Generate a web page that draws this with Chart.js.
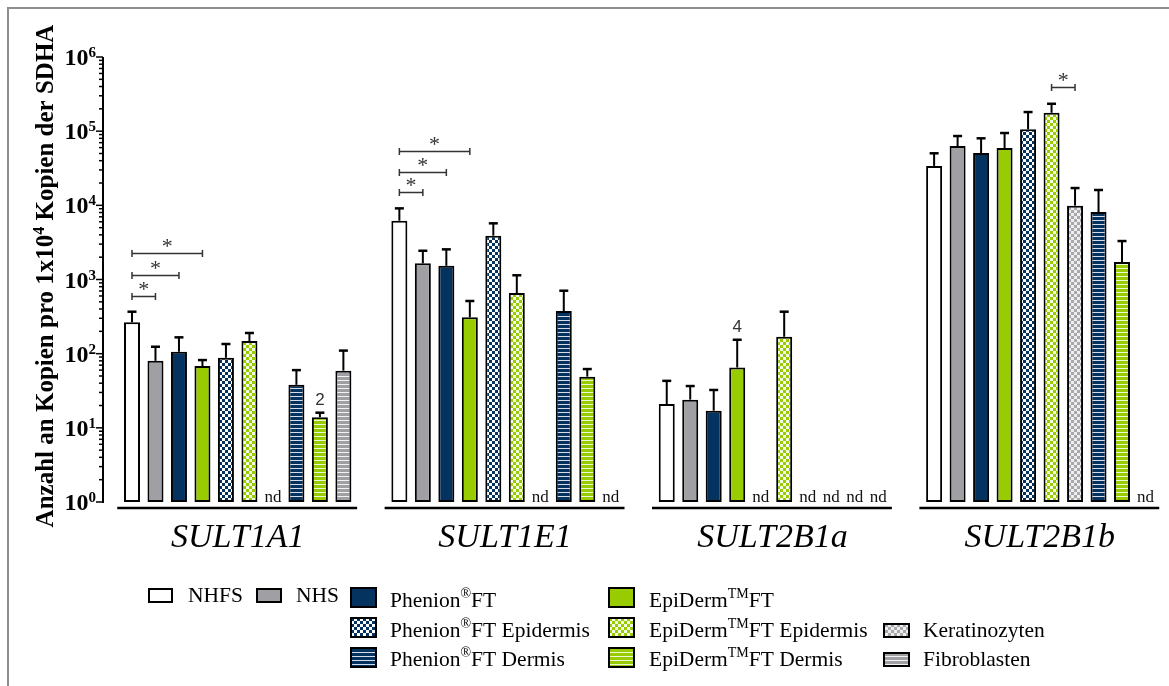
<!DOCTYPE html>
<html>
<head>
<meta charset="utf-8">
<script src="https://cdn.jsdelivr.net/npm/chart.js@4.4.1/dist/chart.umd.min.js"></script>
<style>
  html, body { margin: 0; padding: 0; background: #fff; overflow: hidden; width: 1169px; height: 686px; }
  #wrap { position: relative; width: 1180px; height: 686px; }
  canvas { display: block; }
</style>
</head>
<body>
<div id="wrap"><canvas id="c" width="1180" height="686"></canvas></div>
<script>
// ---- data: copies per 1x10^4 SDHA copies (mean, SD); null = not detected ----
const genes = ['SULT1A1', 'SULT1E1', 'SULT2B1a', 'SULT2B1b'];

const nhfs       = [265, 6200, 21, 34000];
const nhfsSd     = [103, 2900, 22, 16300];
const nhs        = [80, 1650, 24, 63000];
const nhsSd      = [44, 790, 12.6, 23000];
const phenFT     = [106, 1530, 17, 50700];
const phenFTSd   = [60, 1020, 15.4, 29400];
const epiFT      = [68, 309, 65, 59300];
const epiFTSd    = [14, 204, 89, 35100];
const phenEpi    = [88, 3900, null, 106000];
const phenEpiSd  = [47, 1820, null, 75000];
const epiEpi     = [148, 658, 169, 177000];
const epiEpiSd   = [42, 482, 199, 57000];
const kera       = [null, null, null, 9900];
const keraSd     = [null, null, null, 7200];
const phenDerm   = [38, 376, null, 8130];
const phenDermSd = [22, 330, null, 7970];
const epiDerm    = [13.9, 49, null, 1720];
const epiDermSd  = [2.1, 13, null, 1580];
const fibro      = [59, null, null, null];
const fibroSd    = [51, null, null, null];

const seriesNames = [
  'NHFS', 'NHS', 'Phenion^{®}FT', 'EpiDerm^{TM}FT',
  'Phenion^{®}FT Epidermis', 'EpiDerm^{TM}FT Epidermis', 'Keratinozyten',
  'Phenion^{®}FT Dermis', 'EpiDerm^{TM}FT Dermis', 'Fibroblasten'
];
const seriesMeans = [nhfs, nhs, phenFT, epiFT, phenEpi, epiEpi, kera, phenDerm, epiDerm, fibro];
const seriesSds   = [nhfsSd, nhsSd, phenFTSd, epiFTSd, phenEpiSd, epiEpiSd, keraSd, phenDermSd, epiDermSd, fibroSd];

// significance brackets: gene index, series from/to, bracket level (data units)
const sigGene  = [0, 0, 0, 1, 1, 1, 3];
const sigFrom  = [0, 0, 0, 0, 0, 0, 5];
const sigTo    = [1, 2, 3, 1, 2, 3, 6];
const sigLevel = [600, 1150, 2280, 15300, 28400, 54000, 398000];

// sample-size notes above single bars
const noteGene   = [0, 2];
const noteSeries = [8, 3];
const noteText   = ['2', '4'];

const yTickExp = [0, 1, 2, 3, 4, 5, 6];

// ---- fills ----
const NAVY = '#05335f', GREEN = '#99cc00', GRAY = '#a0a0a4';
function checker(c1, c2, s) {
  const cv = document.createElement('canvas'); cv.width = cv.height = 2 * s;
  const g = cv.getContext('2d');
  g.fillStyle = c1; g.fillRect(0, 0, 2 * s, 2 * s);
  g.fillStyle = c2; g.fillRect(0, 0, s, s); g.fillRect(s, s, s, s);
  return g.createPattern(cv, 'repeat');
}
function stripes(c1, c2, period, h) {
  const cv = document.createElement('canvas'); cv.width = 4; cv.height = period;
  const g = cv.getContext('2d');
  g.fillStyle = c1; g.fillRect(0, 0, 4, period);
  g.fillStyle = c2; g.fillRect(0, 0, 4, h);
  return g.createPattern(cv, 'repeat');
}
const fills = [
  '#ffffff', GRAY, NAVY, GREEN,
  checker(NAVY, '#ffffff', 3), checker(GREEN, '#f4fae6', 3), checker('#a8a8ac', '#eeeeee', 3),
  stripes(NAVY, '#d6dde8', 4, 1), stripes(GREEN, '#eef7d6', 4, 1), stripes('#a0a0a4', '#f2f2f2', 4, 1)
];

const plain = s => s.replace(/\^\{([^}]*)\}/g, '$1');
const datasets = seriesMeans.map((d, i) => ({
  label: plain(seriesNames[i]),
  data: d,
  sd: seriesSds[i],
  backgroundColor: fills[i],
  borderColor: '#000',
  borderWidth: 2,
  borderSkipped: false
}));

// ---- text helpers ----
const SERIF = '"Liberation Serif", "Times New Roman", serif';
function parts(str) {
  const out = []; const re = /\^\{([^}]*)\}/g; let last = 0, m;
  while ((m = re.exec(str))) {
    if (m.index > last) out.push([str.slice(last, m.index), false]);
    out.push([m[1], true]); last = re.lastIndex;
  }
  if (last < str.length) out.push([str.slice(last), false]);
  return out;
}
function richWidth(ctx, str, size, supSize, weight) {
  let w = 0;
  for (const [t, sup] of parts(str)) {
    ctx.font = `${weight} ${sup ? supSize : size}px ${SERIF}`;
    w += ctx.measureText(t).width;
  }
  return w;
}
function drawRich(ctx, str, x, y, size, supSize, raise, weight, align) {
  const w = richWidth(ctx, str, size, supSize, weight);
  let cx = align === 'right' ? x - w : align === 'center' ? x - w / 2 : x;
  ctx.textAlign = 'left'; ctx.textBaseline = 'alphabetic';
  for (const [t, sup] of parts(str)) {
    ctx.font = `${weight} ${sup ? supSize : size}px ${SERIF}`;
    ctx.fillText(t, cx, sup ? y - raise : y);
    cx += ctx.measureText(t).width;
  }
}

// legend layout: box [x, y, w, h], text x, text baseline
const legendBox = [
  [148, 588, 25, 15], [256, 588, 26, 15], [350, 587, 27, 21], [608, 587, 27, 21],
  [350, 617, 27, 21], [608, 617, 27, 21], [883, 623, 27, 15],
  [350, 647, 27, 21], [608, 647, 27, 21], [883, 652, 27, 15]
];
const legendTextX = [188, 296, 390, 649, 390, 649, 923, 390, 649, 923];
const legendTextY = [602, 602, 607, 607, 637, 637, 637, 666, 666, 666];

const decor = {
  id: 'decor',
  afterDraw(chart) {
    const ctx = chart.ctx, ys = chart.scales.y, xs = chart.scales.x, area = chart.chartArea;
    ctx.save();

    // frame
    ctx.strokeStyle = '#8e8e8e'; ctx.lineWidth = 2;
    ctx.beginPath(); ctx.moveTo(8, 686); ctx.lineTo(8, 8); ctx.lineTo(1180, 8); ctx.stroke();

    // error bars (upper only)
    chart.data.datasets.forEach((ds, di) => {
      const meta = chart.getDatasetMeta(di);
      meta.data.forEach((el, i) => {
        const v = ds.data[i];
        if (v == null) return;
        const top = ys.getPixelForValue(v + ds.sd[i]);
        ctx.strokeStyle = '#000'; ctx.lineWidth = 2;
        ctx.beginPath(); ctx.moveTo(el.x, el.y); ctx.lineTo(el.x, top); ctx.stroke();
        ctx.lineWidth = 2.5;
        ctx.beginPath(); ctx.moveTo(el.x - 4.5, top); ctx.lineTo(el.x + 4.5, top); ctx.stroke();
      });
    });

    // "nd" markers for undetected series
    ctx.fillStyle = '#111'; ctx.font = `17px ${SERIF}`; ctx.textAlign = 'center'; ctx.textBaseline = 'alphabetic';
    chart.data.datasets.forEach((ds, di) => {
      const meta = chart.getDatasetMeta(di);
      meta.data.forEach((el, i) => {
        if (ds.data[i] == null) ctx.fillText('nd', el.x, area.bottom);
      });
    });

    // sample-size notes
    ctx.fillStyle = '#333'; ctx.font = '17px "Liberation Sans", Arial, sans-serif';
    noteGene.forEach((g, k) => {
      const s = noteSeries[k], ds = chart.data.datasets[s];
      const el = chart.getDatasetMeta(s).data[g];
      const top = ys.getPixelForValue(ds.data[g] + ds.sd[g]);
      ctx.fillText(noteText[k], el.x, top - 8);
    });

    // significance brackets
    ctx.strokeStyle = '#333'; ctx.fillStyle = '#333'; ctx.lineWidth = 1.5;
    ctx.font = `22px ${SERIF}`;
    sigGene.forEach((g, k) => {
      const x1 = chart.getDatasetMeta(sigFrom[k]).data[g].x;
      const x2 = chart.getDatasetMeta(sigTo[k]).data[g].x;
      const y = Math.round(ys.getPixelForValue(sigLevel[k])) + 0.5;
      ctx.beginPath();
      ctx.moveTo(x1, y); ctx.lineTo(x2, y);
      ctx.moveTo(x1, y - 3.5); ctx.lineTo(x1, y + 3.5);
      ctx.moveTo(x2, y - 3.5); ctx.lineTo(x2, y + 3.5);
      ctx.stroke();
      ctx.fillText('*', (x1 + x2) / 2, y - 1);
    });

    // y axis: line, major and minor ticks, labels
    const ax = area.left - 1;
    ctx.strokeStyle = '#000'; ctx.lineWidth = 2;
    ctx.beginPath(); ctx.moveTo(ax, area.top); ctx.lineTo(ax, area.bottom + 1); ctx.stroke();
    ctx.lineWidth = 1.5;
    yTickExp.forEach(e => {
      const y = ys.getPixelForValue(Math.pow(10, e));
      ctx.beginPath(); ctx.moveTo(ax - 7, y); ctx.lineTo(ax, y); ctx.stroke();
      if (e < 6) {
        for (let m = 2; m <= 9; m++) {
          const ym = ys.getPixelForValue(m * Math.pow(10, e));
          ctx.beginPath(); ctx.moveTo(ax - 4, ym); ctx.lineTo(ax, ym); ctx.stroke();
        }
      }
    });
    ctx.fillStyle = '#000';
    yTickExp.forEach(e => {
      const y = ys.getPixelForValue(Math.pow(10, e));
      drawRich(ctx, `10^{${e}}`, 96, y + 8, 24, 15, 8, 'bold', 'right');
    });

    // y axis title
    ctx.save();
    ctx.translate(53, 276); ctx.rotate(-Math.PI / 2);
    drawRich(ctx, 'Anzahl an Kopien pro 1x10^{4} Kopien der SDHA', 0, 0, 25, 16, 9, 'bold', 'center');
    ctx.restore();

    // per-gene baselines and italic gene names
    genes.forEach((g, i) => {
      const c = xs.getPixelForValue(i);
      const half = xs.width / genes.length * chart.options.datasets.bar.categoryPercentage / 2;
      ctx.strokeStyle = '#000'; ctx.lineWidth = 2.5;
      ctx.beginPath(); ctx.moveTo(c - half - 3, 508); ctx.lineTo(c + half + 2, 508); ctx.stroke();
      ctx.fillStyle = '#000'; ctx.font = `italic 34px ${SERIF}`; ctx.textAlign = 'center';
      ctx.fillText(g, c, 547);
    });

    // legend
    seriesNames.forEach((name, i) => {
      const [bx, by, bw, bh] = legendBox[i];
      ctx.fillStyle = fills[i]; ctx.fillRect(bx, by, bw, bh);
      ctx.strokeStyle = '#000'; ctx.lineWidth = 2; ctx.strokeRect(bx + 1, by + 1, bw - 2, bh - 2);
      ctx.fillStyle = '#000';
      drawRich(ctx, name, legendTextX[i], legendTextY[i], 21.5, 14, 9, 'normal', 'left');
    });

    ctx.restore();
  }
};

new Chart(document.getElementById('c'), {
  type: 'bar',
  data: { labels: genes, datasets },
  options: {
    responsive: false,
    animation: false,
    devicePixelRatio: 1,
    layout: { padding: { left: 104, right: 6.5, top: 57, bottom: 184 } },
    datasets: { bar: { categoryPercentage: 0.8785, barPercentage: 0.681 } },
    scales: {
      x: { display: false },
      y: { type: 'logarithmic', display: false, min: 1, max: 1e6 }
    },
    plugins: { legend: { display: false }, tooltip: { enabled: false } }
  },
  plugins: [decor]
});
</script>
</body>
</html>
